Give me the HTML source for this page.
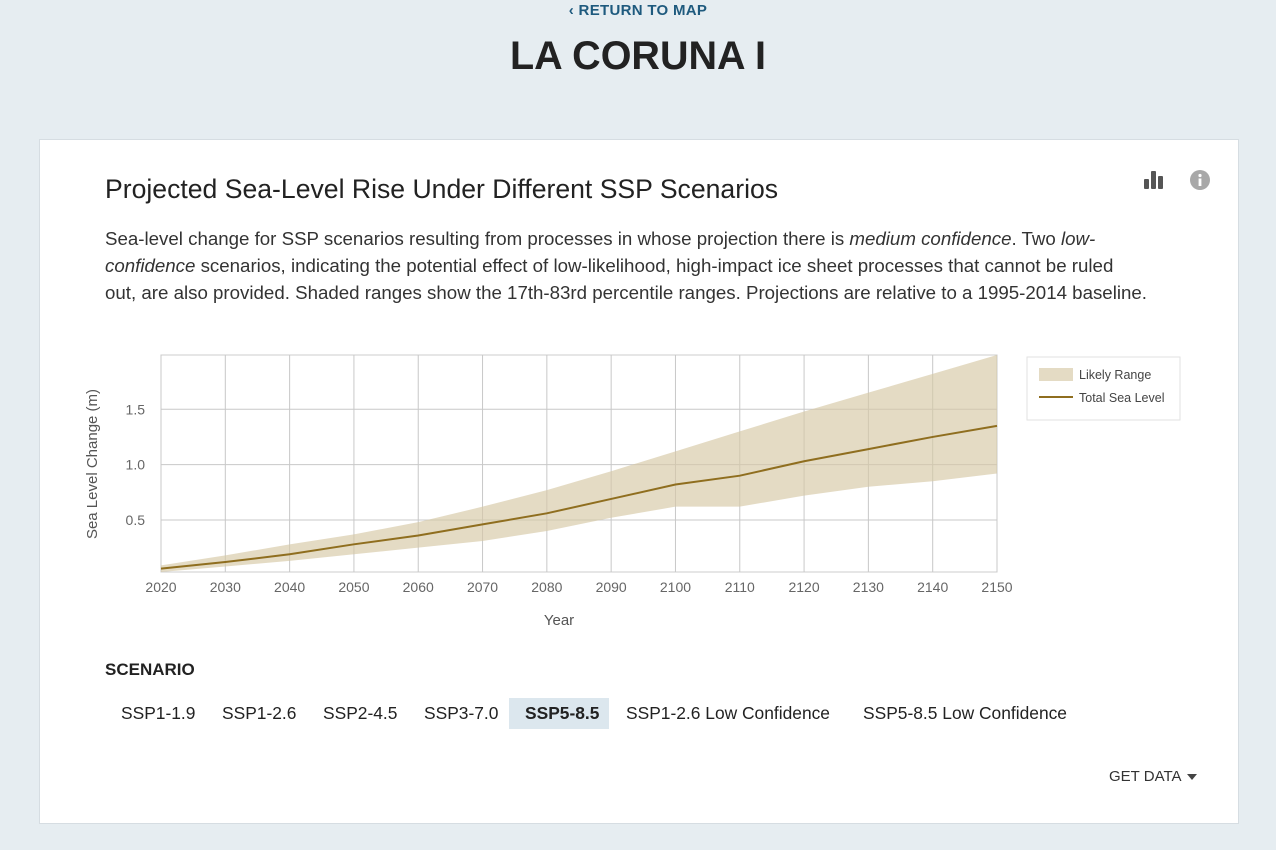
<!DOCTYPE html>
<html><head><meta charset="utf-8">
<style>
body{margin:0;width:1276px;height:850px;background:#e6edf1;font-family:"Liberation Sans",sans-serif;position:relative;overflow:hidden;color:#222}
.abs{position:absolute}
.btn{position:absolute;top:698px;height:31px;line-height:31px;padding:0 16px;font-size:17.4px;color:#222;white-space:nowrap}
.btn.active{background:#dce7ee;font-weight:bold}
.desc div{white-space:nowrap}
</style></head><body>
<div class="abs" style="left:0;width:1276px;top:2px;text-align:center;font-size:15px;font-weight:bold;color:#1e5a7e;letter-spacing:0.3px">‹ RETURN TO MAP</div>
<div class="abs" style="left:0;width:1276px;top:34px;text-align:center;font-size:39.5px;font-weight:bold;color:#222">LA CORUNA I</div>
<div class="abs" style="left:39px;top:139px;width:1198px;height:683px;background:#fff;border:1px solid #d6dde2"></div>
<div class="abs" style="left:105px;top:174px;font-size:26.6px;color:#222">Projected Sea-Level Rise Under Different SSP Scenarios</div>
<div class="abs desc" style="left:105px;top:225px;font-size:18.7px;line-height:27px;color:#333">
<div>Sea-level change for SSP scenarios resulting from processes in whose projection there is <i>medium confidence</i>. Two <i>low-</i></div>
<div><i>confidence</i> scenarios, indicating the potential effect of low-likelihood, high-impact ice sheet processes that cannot be ruled</div>
<div>out, are also provided. Shaded ranges show the 17th-83rd percentile ranges. Projections are relative to a 1995-2014 baseline.</div>
</div>
<svg class="abs" style="left:1144px;top:169px" width="22" height="22"><rect x="0" y="10" width="5" height="10" rx="1" fill="#555"/><rect x="7" y="2" width="5" height="18" rx="1" fill="#555"/><rect x="14" y="7" width="5" height="13" rx="1" fill="#555"/></svg>
<svg class="abs" style="left:1189px;top:169px" width="22" height="22"><circle cx="11" cy="11" r="10" fill="#a8a8a8"/><circle cx="11" cy="6.5" r="1.6" fill="#fff"/><rect x="9.6" y="9.5" width="2.8" height="7.5" fill="#fff"/></svg>
<svg id="chart" class="abs" style="left:0;top:0" width="1276" height="850"></svg>
<div class="abs" style="left:105px;top:660px;font-size:17px;font-weight:bold;color:#222">SCENARIO</div>
<div class="btn" style="left:105px">SSP1-1.9</div>
<div class="btn" style="left:206px">SSP1-2.6</div>
<div class="btn" style="left:307px">SSP2-4.5</div>
<div class="btn" style="left:408px">SSP3-7.0</div>
<div class="btn active" style="left:509px;width:68px;padding:0 16px">SSP5-8.5</div>
<div class="btn" style="left:610px">SSP1-2.6 Low Confidence</div>
<div class="btn" style="left:847px">SSP5-8.5 Low Confidence</div>
<div class="abs" style="left:1109px;top:768px;font-size:15px;color:#333">GET DATA <span style="display:inline-block;width:0;height:0;border-left:5px solid transparent;border-right:5px solid transparent;border-top:6px solid #444;vertical-align:middle;margin-left:2px"></span></div>
<script>
const years=[2020,2030,2040,2050,2060,2070,2080,2090,2100,2110,2120,2130,2140,2150];
const median=[0.06,0.12,0.19,0.28,0.36,0.46,0.56,0.69,0.82,0.90,1.03,1.14,1.25,1.35];
const upper=[0.09,0.18,0.28,0.37,0.48,0.62,0.77,0.94,1.12,1.30,1.48,1.65,1.82,1.99];
const lower=[0.03,0.08,0.13,0.19,0.25,0.31,0.40,0.52,0.62,0.62,0.72,0.80,0.85,0.92];
const yTicks=[0.5,1.0,1.5];
const yTickLabels=["0.5","1.0","1.5"];
const X0=161,X1=997,Y0=572,Y1=355,yMin=0.03,yMax=1.99;
const sx=v=>X0+(v-2020)/(2150-2020)*(X1-X0);
const sy=v=>Y0-(v-yMin)/(yMax-yMin)*(Y0-Y1);
const svg=document.getElementById('chart');
const NS='http://www.w3.org/2000/svg';
function mk(t,a){const e=document.createElementNS(NS,t);for(const k in a)e.setAttribute(k,a[k]);svg.appendChild(e);return e;}
let e=mk('rect',{x:X0,y:Y1,width:X1-X0,height:Y0-Y1,fill:'#fff',stroke:'#ccc'});


years.forEach(y=>{const l=mk('line',{x1:sx(y),x2:sx(y),y1:Y1,y2:Y0,stroke:'#c8c8c8'});


const t=mk('text',{x:sx(y),y:592,'text-anchor':'middle','font-size':14,fill:'#666','font-family':'Liberation Sans, sans-serif'});t.textContent=y;

});
yTicks.forEach((v,i)=>{const l=mk('line',{x1:X0,x2:X1,y1:sy(v),y2:sy(v),stroke:'#c8c8c8'});


const t=mk('text',{x:145,y:sy(v)+5,'text-anchor':'end','font-size':14,fill:'#666','font-family':'Liberation Sans, sans-serif'});t.textContent=yTickLabels[i];

});
let d=years.map((y,i)=>(i?'L':'M')+sx(y)+','+sy(upper[i])).join('')+years.slice().reverse().map((y,j)=>{const i=years.length-1-j;return 'L'+sx(y)+','+sy(lower[i]);}).join('')+'Z';
e=mk('path',{d:d,fill:'#d6c8a5','fill-opacity':0.65});


e=mk('path',{d:years.map((y,i)=>(i?'L':'M')+sx(y)+','+sy(median[i])).join(''),fill:'none',stroke:'#8f6e1f','stroke-width':2});


e=mk('text',{x:559,y:625,'text-anchor':'middle','font-size':15,fill:'#555','font-family':'Liberation Sans, sans-serif'});e.textContent='Year';


e=mk('text',{x:0,y:0,'text-anchor':'middle','font-size':15,fill:'#555','font-family':'Liberation Sans, sans-serif',transform:'translate(97,464) rotate(-90)'});e.textContent='Sea Level Change (m)';


e=mk('rect',{x:1027,y:357,width:153,height:63,fill:'#fff',stroke:'#e2e2e2'});


e=mk('rect',{x:1039,y:368,width:34,height:13,fill:'#d6c8a5','fill-opacity':0.65});


e=mk('text',{x:1079,y:379,'font-size':12.5,fill:'#444','font-family':'Liberation Sans, sans-serif'});e.textContent='Likely Range';


e=mk('line',{x1:1039,x2:1073,y1:397,y2:397,stroke:'#8f6e1f','stroke-width':2});


e=mk('text',{x:1079,y:402,'font-size':12.5,fill:'#444','font-family':'Liberation Sans, sans-serif'});e.textContent='Total Sea Level';


</script>
</body></html>
